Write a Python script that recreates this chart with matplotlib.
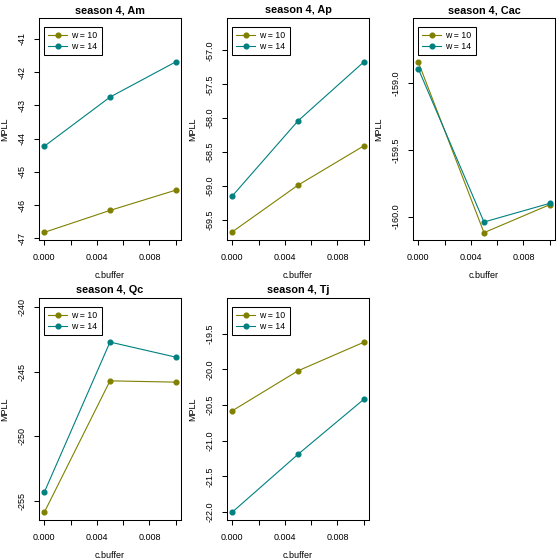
import matplotlib
matplotlib.use("Agg")
import matplotlib.pyplot as plt

plt.rcParams["font.family"] = ["Liberation Sans", "DejaVu Sans"]

c_buffer = [0.0, 0.005, 0.01]
panels = ["Am", "Ap", "Cac", "Qc", "Tj"]
w10 = {
    "Am": [-46.82, -46.16, -45.55],
    "Ap": [-59.68, -58.99, -58.41],
    "Cac": [-158.84, -160.12, -159.91],
    "Qc": [-255.91, -245.70, -245.80],
    "Tj": [-20.58, -20.02, -19.62],
}
w14 = {
    "Am": [-44.23, -42.75, -41.69],
    "Ap": [-59.15, -58.04, -57.17],
    "Cac": [-158.89, -160.04, -159.90],
    "Qc": [-254.35, -242.69, -243.86],
    "Tj": [-22.00, -21.19, -20.42],
}
ylims = {
    "Am": (-47.05, -40.37),
    "Ap": (-59.80, -56.52),
    "Cac": (-160.175, -158.51),
    "Qc": (-256.5, -239.27),
    "Tj": (-22.11, -19.0),
}
yticks = {
    "Am": [-47, -46, -45, -44, -43, -42, -41],
    "Ap": [-59.5, -59.0, -58.5, -58.0, -57.5, -57.0],
    "Cac": [-160.0, -159.5, -159.0],
    "Qc": [-255, -250, -245, -240],
    "Tj": [-22.0, -21.5, -21.0, -20.5, -20.0, -19.5],
}
xticks = [0.0, 0.002, 0.004, 0.006, 0.008, 0.010]
xticklabels = ["0.000", "", "0.004", "", "0.008", ""]

olive = "#808000"
teal = "#008080"

W = H = 560
fig = plt.figure(figsize=(5.6, 5.6), dpi=100)
col_left = [39, 227, 413]
row_top = [18, 298]
aw, ah = 142, 222

for i, name in enumerate(panels):
    r, c = divmod(i, 3)
    left = col_left[c] / W
    bottom = (H - row_top[r] - ah) / H
    ax = fig.add_axes([left, bottom, aw / W, ah / H])
    ax.plot(c_buffer, w10[name], color=olive, marker="o", markersize=3.4, lw=0.8, label="w = 10")
    ax.plot(c_buffer, w14[name], color=teal, marker="o", markersize=3.4, lw=0.8, label="w = 14")
    ax.set_xlim(-0.0004, 0.0104)
    ax.set_ylim(*ylims[name])
    ax.set_xticks(xticks)
    ax.set_xticklabels(xticklabels)
    ax.set_yticks(yticks[name])
    ax.set_yticklabels([f"{v:g}" if name in ("Am", "Qc") else f"{v:.1f}" for v in yticks[name]],
                       rotation=90, va="center")
    ax.tick_params(direction="out", length=3.6, width=0.75, labelsize=6.5, pad=5.5)
    for s in ax.spines.values():
        s.set_linewidth(0.75)
    ax.text(0.5, 1 + 8 / ah, f"season 4, {name}", transform=ax.transAxes,
            ha="center", va="center", fontsize=7.8, fontweight="bold")
    ax.set_xlabel("c.buffer", fontsize=6.5)
    ax.set_ylabel("MPLL", fontsize=6.5)
    ax.xaxis.set_label_coords(0.5, -35 / ah)
    ax.yaxis.set_label_coords(-34 / aw, 0.5)
    ax.xaxis.label.set_va("center")
    ax.yaxis.label.set_va("center")
    leg = ax.legend(loc="upper left", fontsize=6.3, frameon=True, fancybox=False,
                    borderpad=0.5, handlelength=2.1, handletextpad=0.5, labelspacing=0.15,
                    borderaxespad=0, bbox_to_anchor=(5 / aw, 1 - 9 / ah))
    leg.get_frame().set_edgecolor("black")
    leg.get_frame().set_linewidth(0.75)
    leg.get_frame().set_alpha(1)

fig.savefig("out.png", dpi=100)
